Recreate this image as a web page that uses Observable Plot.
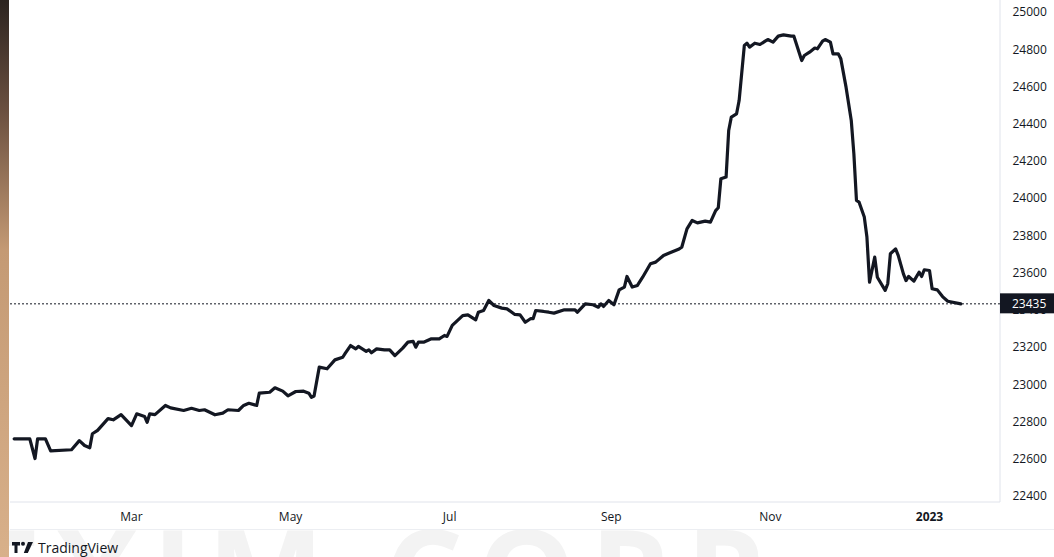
<!DOCTYPE html>
<html>
<head>
<meta charset="utf-8">
<script src="https://cdn.jsdelivr.net/npm/d3@7"></script>
<script src="https://cdn.jsdelivr.net/npm/@observablehq/plot@0.6"></script>
<style>
  body { margin: 0; background: #fff; font-family: "Open Sans", sans-serif; }
  #wrap { position: relative; width: 1054px; height: 557px; overflow: hidden; background: #fff; }
  #strip { position: absolute; left: 0; top: 0; width: 9px; height: 557px;
           background: linear-gradient(#2c2420, #6b5040 20%, #c49a74 45%, #d8b08a 100%); }
  #wm { position: absolute; left: -28px; top: 486px; font: bold 124px "Open Sans", sans-serif;
        color: #f3f3f3; letter-spacing: 14px; white-space: nowrap; }
  #chart { position: absolute; left: 0; top: 0; }
  #footer { position: absolute; left: 12px; top: 538px; display: flex; align-items: center;
            font: 14px "Open Sans", sans-serif; color: #131722; }
  #footer svg { margin-right: 4px; }
</style>
</head>
<body>
<div id="wrap">
  <div id="wm">EXIM CORP</div>
  <div id="chart"></div>
  <div id="strip"></div>
  <div id="footer">
    <svg width="22" height="14" viewBox="0 0 22 14">
      <path d="M0 1h8v3.5H5.5V12H2.5V4.5H0z" fill="#131722"/>
      <circle cx="11" cy="2.8" r="2" fill="#131722"/>
      <path d="M16 1h5l-5.2 11h-4z" fill="#131722"/>
    </svg>
    <span>TradingView</span>
  </div>
</div>
<script>
const dates = ["2022-01-15","2022-01-21","2022-01-23","2022-01-24","2022-01-27","2022-01-29","2022-02-06","2022-02-09","2022-02-11","2022-02-13",
"2022-02-14","2022-02-16","2022-02-20","2022-02-22","2022-02-25","2022-03-01","2022-03-03","2022-03-06","2022-03-07","2022-03-08",
"2022-03-10","2022-03-14","2022-03-16","2022-03-21","2022-03-24","2022-03-27","2022-03-29","2022-04-02","2022-04-05","2022-04-07",
"2022-04-11","2022-04-13","2022-04-15","2022-04-18","2022-04-19","2022-04-23","2022-04-25","2022-04-28","2022-04-30","2022-05-03",
"2022-05-06","2022-05-08","2022-05-09","2022-05-10","2022-05-12","2022-05-15","2022-05-18","2022-05-21","2022-05-22","2022-05-24",
"2022-05-26","2022-05-27","2022-05-30","2022-05-31","2022-06-01","2022-06-03","2022-06-06","2022-06-08","2022-06-10","2022-06-13",
"2022-06-15","2022-06-17","2022-06-18","2022-06-19","2022-06-21","2022-06-24","2022-06-27","2022-06-29","2022-06-30","2022-07-02",
"2022-07-06","2022-07-08","2022-07-11","2022-07-12","2022-07-14","2022-07-16","2022-07-18","2022-07-21","2022-07-23","2022-07-26",
"2022-07-28","2022-07-30","2022-08-01","2022-08-02","2022-08-03","2022-08-06","2022-08-08","2022-08-10","2022-08-14","2022-08-18",
"2022-08-19","2022-08-22","2022-08-25","2022-08-27","2022-08-28","2022-08-29","2022-08-31","2022-09-02","2022-09-04","2022-09-06",
"2022-09-07","2022-09-09","2022-09-11","2022-09-13","2022-09-16","2022-09-18","2022-09-21","2022-09-23","2022-09-27","2022-09-28",
"2022-09-30","2022-10-02","2022-10-04","2022-10-07","2022-10-09","2022-10-11","2022-10-12","2022-10-13","2022-10-15","2022-10-16",
"2022-10-17","2022-10-19","2022-10-20","2022-10-22","2022-10-23","2022-10-24","2022-10-26","2022-10-28","2022-10-30","2022-10-31",
"2022-11-02","2022-11-04","2022-11-06","2022-11-09","2022-11-10","2022-11-13","2022-11-14","2022-11-16","2022-11-18","2022-11-19",
"2022-11-21","2022-11-22","2022-11-24","2022-11-25","2022-11-27","2022-11-28","2022-11-30","2022-12-02","2022-12-03","2022-12-04",
"2022-12-05","2022-12-07","2022-12-08","2022-12-09","2022-12-11","2022-12-12","2022-12-15","2022-12-16","2022-12-17","2022-12-19",
"2022-12-20","2022-12-22","2022-12-23","2022-12-24","2022-12-26","2022-12-28","2022-12-29","2022-12-30","2023-01-01","2023-01-02",
"2023-01-04","2023-01-06","2023-01-08","2023-01-13"];

const prices = [22710,22710,22604,22710,22710,22645,22651,22700,22674,22662,
22737,22755,22818,22812,22840,22781,22844,22830,22799,22844,
22840,22889,22876,22862,22874,22862,22866,22839,22848,22866,
22862,22889,22901,22889,22955,22960,22984,22966,22941,22964,
22966,22955,22933,22940,23095,23086,23134,23148,23170,23211,
23193,23206,23180,23188,23172,23193,23188,23188,23157,23197,
23229,23233,23202,23229,23229,23247,23247,23265,23260,23319,
23372,23376,23349,23390,23399,23453,23426,23412,23408,23378,
23376,23336,23355,23355,23399,23394,23390,23385,23403,23403,
23390,23435,23430,23417,23435,23421,23453,23430,23510,23525,
23582,23525,23534,23578,23650,23659,23695,23707,23730,23739,
23838,23883,23870,23879,23874,23936,23951,24107,24116,24366,
24438,24455,24527,24823,24835,24814,24835,24828,24846,24855,
24841,24873,24880,24873,24873,24742,24769,24787,24809,24805,
24846,24855,24841,24778,24778,24751,24599,24420,24241,23990,
23981,23901,23794,23551,23686,23578,23507,23543,23704,23730,
23695,23596,23560,23582,23557,23605,23582,23618,23614,23516,
23510,23474,23449,23435];

const lastPrice = 23435;
const yTicks = [22400,22600,22800,23000,23200,23400,23600,23800,24000,24200,24400,24600,24800,25000];
const monthTicks = ["2022-03-01","2022-05-01","2022-07-01","2022-09-01","2022-11-01"];
const yearTicks = ["2023-01-01"];

const data = dates.map((d, i) => ({date: new Date(d), price: prices[i]}));
const ink = "#131722";

const plot = Plot.plot({
  width: 1054,
  height: 531,
  marginLeft: 10,
  marginRight: 54,
  marginTop: 0,
  marginBottom: 29,
  x: {type: "utc", domain: [new Date("2022-03-01"), new Date("2023-01-01")], range: [131, 929], label: null},
  y: {domain: [22400, 25000], range: [496, 12], label: null},
  style: {fontFamily: "'Open Sans', sans-serif", fontSize: "12px", color: ink, background: "transparent", overflow: "visible"},
  marks: [
    Plot.ruleY([lastPrice], {stroke: ink, strokeWidth: 1, strokeDasharray: "2,2"}),
    Plot.line(data, {x: "date", y: "price", stroke: ink, strokeWidth: 3.2, strokeLinejoin: "round", strokeLinecap: "round"}),
    Plot.axisY(yTicks, {anchor: "right", label: null, tickSize: 0, tickPadding: 12, textAnchor: "start", tickFormat: d => String(d), fill: ink}),
    Plot.axisX(monthTicks.map(d => new Date(d)), {anchor: "bottom", label: null, tickSize: 0, tickPadding: 10, tickFormat: d3.utcFormat("%b"), fill: ink}),
    Plot.axisX(yearTicks.map(d => new Date(d)), {anchor: "bottom", label: null, tickSize: 0, tickPadding: 10, tickFormat: d3.utcFormat("%Y"), fill: ink, fontWeight: "bold"})
  ]
});

// Frame lines like TradingView panes
const svg = d3.select(plot);
const border = "#e0e3eb";
svg.insert("line", ":first-child").attr("x1", 10).attr("x2", 1000).attr("y1", 502).attr("y2", 502).attr("stroke", border);
svg.insert("line", ":first-child").attr("x1", 1000).attr("x2", 1000).attr("y1", 0).attr("y2", 502).attr("stroke", border);
svg.insert("line", ":first-child").attr("x1", 10).attr("x2", 1054).attr("y1", 529.5).attr("y2", 529.5).attr("stroke", "#eceef2");

// Last price label on the price scale
const yp = plot.scale("y").apply(lastPrice);
const g = svg.append("g");
g.append("rect").attr("x", 1000).attr("y", yp - 10).attr("width", 54).attr("height", 20).attr("fill", ink);
g.append("text").attr("x", 1012).attr("y", yp).attr("dy", "0.35em").attr("fill", "#fff")
  .attr("text-anchor", "start")
  .attr("font-size", 12).attr("font-family", "'Open Sans', sans-serif").text(String(lastPrice));

document.getElementById("chart").appendChild(plot);
</script>
</body>
</html>
